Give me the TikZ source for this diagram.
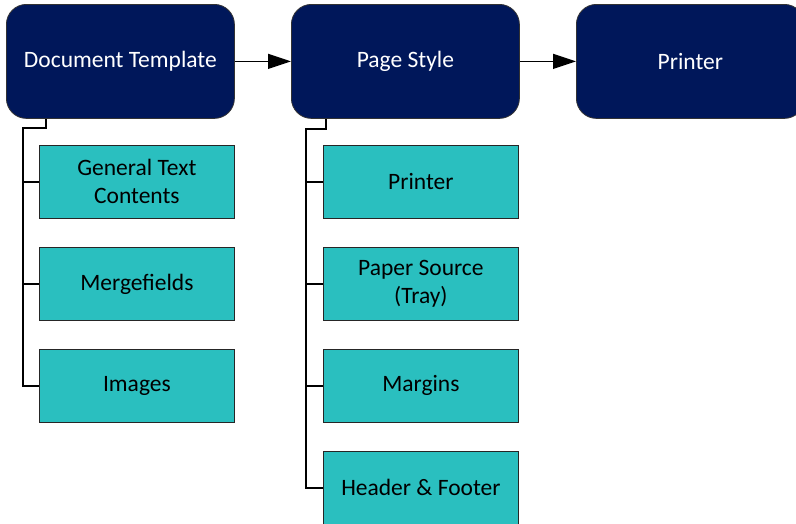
\documentclass[tikz,border=0pt]{standalone}
\usepackage{fontspec}
\setmainfont{Carlito}
\usetikzlibrary{arrows.meta}
\definecolor{navy}{HTML}{00175A}
\definecolor{teal}{HTML}{2ABFBF}
\begin{document}
\begin{tikzpicture}[x=1pt,y=-1pt,
  mainbox/.style={draw=black!80, line width=0.8pt, fill=navy, rounded corners=20pt, text=white,
     font=\fontsize{23.5}{27}\selectfont, minimum width=228pt, minimum height=114pt, inner sep=0pt, anchor=north west},
  subbox/.style={draw=black!85, line width=0.8pt, fill=teal, text=black, align=center,
     font=\fontsize{23.5}{28}\selectfont, minimum width=195pt, minimum height=73pt, inner sep=0pt, anchor=north west},
  conn/.style={line width=1.3pt, black},
  flow/.style={line width=1.3pt, black, -{Triangle[length=23pt,width=15pt]}}]
\useasboundingbox (0,0) rectangle (796,523);
% main boxes
\node[mainbox] (dt) at (6,4) {Document Template};
\node[mainbox] (ps) at (291,4) {Page Style};
\node[mainbox] (pr) at (576,4) {Printer};
% sub boxes left
\node[subbox] (gt) at (39,145) {General Text\\Contents};
\node[subbox] (mf) at (39,247) {Mergefields};
\node[subbox] (im) at (39,349) {Images};
% sub boxes right
\node[subbox] (pp) at (323,145) {Printer};
\node[subbox] (pa) at (323,247) {Paper Source\\(Tray)};
\node[subbox] (ma) at (323,349) {Margins};
\node[subbox] (hf) at (323,451) {Header \& Footer};
% flow arrows
\draw[flow] (dt.east) -- (ps.west);
\draw[flow] (ps.east) -- (pr.west);
% tree connectors left
\coordinate (l0) at (46,128);
\coordinate (lx) at (23,128);
\draw[conn] (dt.south -| l0) -- (l0) -- (lx) |- (im.west);
\draw[conn] (lx |- gt.west) -- (gt.west);
\draw[conn] (lx |- mf.west) -- (mf.west);
% tree connectors right
\coordinate (r0) at (326,129);
\coordinate (rx) at (306,129);
\draw[conn] (ps.south -| r0) -- (r0) -- (rx) |- (hf.west);
\draw[conn] (rx |- pp.west) -- (pp.west);
\draw[conn] (rx |- pa.west) -- (pa.west);
\draw[conn] (rx |- ma.west) -- (ma.west);
\end{tikzpicture}
\end{document}
